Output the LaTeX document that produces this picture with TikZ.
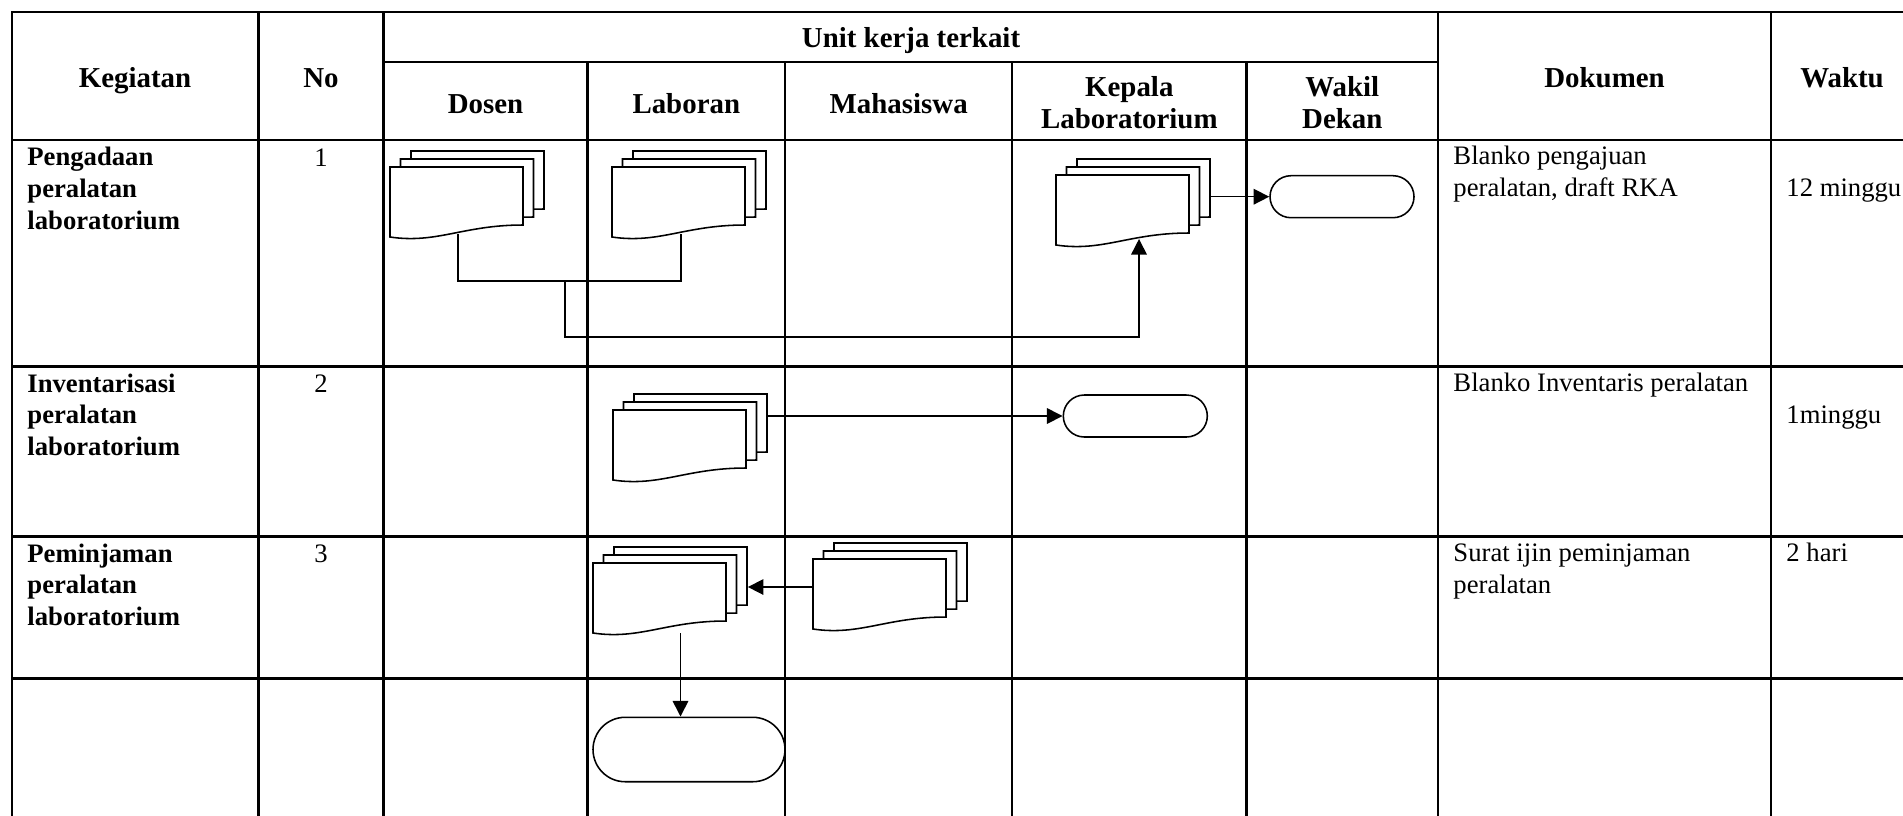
\documentclass[tikz,border=0pt]{standalone}
\usepackage{fontspec}
\setmainfont{Liberation Serif}
\usepackage{tikz}
\usetikzlibrary{positioning,arrows.meta,calc,shapes.misc}

% tumpukan dokumen (3 lembar), #1 nama, #2 #3 pojok kiri atas lembar depan
\newcommand{\docstack}[3]{%
  \foreach \k in {2,1,0} {
    \draw[docline,fill=white,shift={({#2+10.5*\k},{#3-8*\k})}]
      (0,0) -- (133,0) -- (133,58) .. controls (73,58) and (47,77) .. (0,70) -- cycle;
  }
  \node[docbox] (#1) at (#2,#3) {};
  \node[stackbox] (#1-s) at (#2,{#3-16}) {};
}

\begin{document}
\begin{tikzpicture}[x=0.45pt,y=-0.45pt,
  grid/.style={line width=1pt,line cap=rect},
  docline/.style={line width=0.7pt},
  flow/.style={line width=0.7pt,-{Triangle[length=7pt,width=7pt]}},
  docbox/.style={anchor=north west,inner sep=0pt,minimum width=59.85pt,minimum height=31.5pt},
  stackbox/.style={anchor=north west,inner sep=0pt,minimum width=69.3pt,minimum height=38.7pt},
  term/.style={draw,rounded rectangle,line width=0.7pt,fill=white,inner sep=0pt,minimum width=64.8pt,minimum height=18.9pt},
  hdr/.style={font=\fontsize{13pt}{14.4pt}\selectfont\bfseries,align=center,anchor=base,inner sep=0pt},
  act/.style={font=\fontsize{12pt}{14.2pt}\selectfont\bfseries,align=left,anchor=base west,inner sep=0pt},
  txt/.style={font=\fontsize{12pt}{14.2pt}\selectfont,align=left,anchor=base west,inner sep=0pt},
  num/.style={font=\fontsize{12pt}{14.2pt}\selectfont,anchor=base,inner sep=0pt}]
\useasboundingbox (0,0) rectangle (1903,815);

% garis tabel
\foreach \y in {12,140,366.5,536.5,678.5} {\draw[grid] (12,\y) -- (1903,\y);}
\draw[grid] (383.5,62) -- (1438,62);
\foreach \x in {12,258.5,383.5,1438,1771} {\draw[grid] (\x,12) -- (\x,815);}
\foreach \x in {587.4,785.3,1012.2,1246.5} {\draw[grid] (\x,62) -- (\x,815);}

% kepala tabel (base = baris terakhir)
\node[hdr] (hKeg) at (135,87.7) {Kegiatan};
\node[hdr] (hNo) at (321,87.7) {No};
\node[hdr] (hUnit) at (911,47) {Unit kerja terkait};
\node[hdr] (hDsn) at (485.5,113) {Dosen};
\node[hdr] (hLab) at (686.3,113) {Laboran};
\node[hdr] (hMhs) at (898.7,113) {Mahasiswa};
\node[hdr] (hKpl) at (1129.3,128.5) {Kepala\\Laboratorium};
\node[hdr] (hWd) at (1342.3,128.5) {Wakil\\Dekan};
\node[hdr] (hDok) at (1604.5,87.7) {Dokumen};
\node[hdr] (hWkt) at (1842,87.7) {Waktu};

% isi baris
\node[act] (a1) at (27,229) {Pengadaan\\peralatan\\laboratorium};
\node[act] (a2) at (27,455.5) {Inventarisasi\\peralatan\\laboratorium};
\node[act] (a3) at (27,625.5) {Peminjaman\\peralatan\\laboratorium};
\node[num] (n1) at (321,166) {1};
\node[num] (n2) at (321,392.5) {2};
\node[num] (n3) at (321,562.5) {3};
\node[txt] (d1) at (1453,196.5) {Blanko pengajuan\\peralatan, draft RKA};
\node[txt] (d2) at (1453,391.7) {Blanko Inventaris peralatan};
\node[txt] (d3) at (1453,593.3) {Surat ijin peminjaman\\peralatan};
\node[txt] (w1) at (1786,196.7) {12 minggu};
\node[txt] (w2) at (1786,423) {1minggu};
\node[txt] (w3) at (1786,561.7) {2 hari};

% simbol alir
\docstack{dsn}{390}{167}
\docstack{lbA}{612}{167}
\docstack{kpl}{1056}{175}
\docstack{lbB}{613}{410}
\docstack{lbC}{593}{563}
\docstack{mhs}{813}{559}
\node[term] (wd1) at (1342,196.7) {};
\node[term] (kp2) at (1135.3,416) {};
\node[term,minimum width=86.4pt,minimum height=29pt] (lbD) at (689,749.5) {};

% penghubung
\draw[docline] ($(dsn.north west)+(68,67)$) -- ++(0,47) -| ($(lbA.north west)+(69,67)$);
\coordinate (mrg) at (565,281);
\draw[flow] (mrg) -- ++(0,56) -| ($(kpl.north west)+(83,64)$);
\draw[flow] (kpl-s.east |- wd1.west) -- (wd1.west);
\draw[flow] (lbB-s.east |- kp2.west) -- (kp2.west);
\draw[flow] ($(mhs.north west)+(0,28)$) coordinate (m3) -- (m3 -| lbC-s.east);
\draw[flow] ($(lbC.north west)+(87.5,70)$) coordinate (l3) -- (l3 |- lbD.north);
\end{tikzpicture}
\end{document}
